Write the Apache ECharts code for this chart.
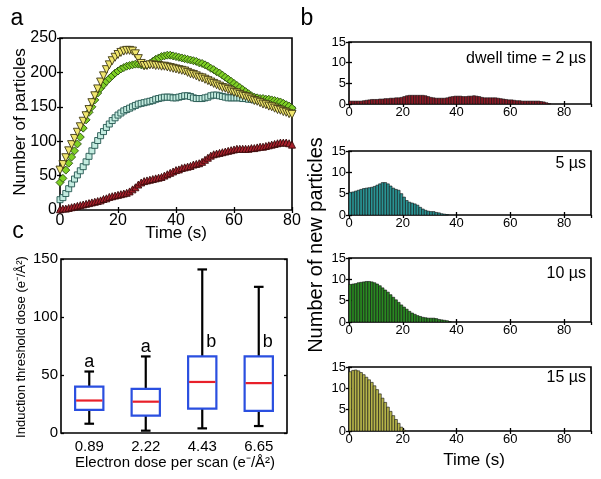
<!DOCTYPE html>
<html lang="en">
<head>
<meta charset="UTF-8">
<title>Particles</title>
<script src="https://cdn.jsdelivr.net/npm/echarts@6/dist/echarts.min.js"></script>
<style>
  body{margin:0;background:#fff}
  #chart{width:601px;height:479px}
</style>
</head>
<body>
<div id="chart"></div>
<script>
// time grid (s), 1 s steps
let timeA = [0,1,2,3,4,5,6,7,8,9,10,11,12,13,14,15,16,17,18,19,20,21,22,23,24,25,26,27,28,29,30,
  31,32,33,34,35,36,37,38,39,40,41,42,43,44,45,46,47,48,49,50,51,52,53,54,55,56,57,58,59,60,
  61,62,63,64,65,66,67,68,69,70,71,72,73,74,75,76,77,78,79,80]

// panel a: number of particles
let yellowA = [58,66,76,86,95,104,113,121,129,137,146,156,166,176,186,195,204,211,217,222,226,229,231,232,232,231,227,220,213,210,210,
  211,211,210,210,209,209,208,207,206,205,204,203,202,200,198,197,195,193,192,190,188,186,184,182,180,178,177,175,173,171,
  170,168,166,165,163,161,159,158,156,154,153,151,150,148,146,145,143,142,140,139]
let greenA = [40,46,58,68,77,86,96,106,119,131,142,150,160,170,177,182,187,191,195,199,202,205,207,209,210,211,212,212,211,210,211,
  213,216,219,221,223,224,225,225,224,223,222,221,220,219,218,217,216,214,213,211,209,206,204,201,199,196,193,190,187,184,
  181,178,175,172,169,166,164,163,162,162,161,161,160,159,158,157,155,153,151,148]
let tealA = [15,18,24,31,38,45,51,57,63,70,78,86,94,101,108,114,120,125,130,134,138,141,144,146,148,150,152,154,155,156,157,
  158,159,161,162,163,164,164,164,163,163,164,165,166,166,165,163,162,162,162,163,164,166,167,167,166,165,164,163,163,163,
  163,163,162,162,161,161,160,160,160,159,159,158,158,157,156,155,153,151,148,146]
let redA = [1,2,2,3,4,5,6,7,8,9,10,11,12,13,14,16,17,19,20,21,22,23,24,25,27,30,33,37,40,42,43,
  44,45,46,47,48,50,52,54,56,58,59,61,62,63,64,66,67,68,70,73,76,79,81,82,83,84,85,86,87,88,
  89,89,89,89,89,90,90,91,92,92,93,94,95,96,97,98,98,98,97,95]

// panel b: new particles per 1 s bin
let binW = 1
let hist2 = [0.7,0.7,0.7,0.7,0.7,0.8,0.9,1.0,1.1,1.1,1.1,1.2,1.2,1.3,1.3,1.4,1.4,1.5,1.5,1.6,1.8,2.0,2.1,2.1,2.1,2.1,2.1,2.1,2.0,1.8,
  1.6,1.5,1.4,1.4,1.4,1.4,1.5,1.7,1.8,1.9,1.9,1.9,1.8,1.8,1.9,1.9,2.0,1.9,1.8,1.6,1.5,1.5,1.5,1.5,1.5,1.4,1.3,1.2,1.1,1.0,
  1.0,0.9,0.8,0.8,0.7,0.7,0.7,0.7,0.7,0.7,0.7,0.6,0.5,0.3,0.1]
let hist5 = [5.3,5.4,5.6,5.8,6.0,6.2,6.3,6.4,6.5,6.7,7.0,7.3,7.6,7.6,7.3,6.8,6.3,6.0,5.8,5.0,4.2,3.4,3.0,2.8,2.6,2.3,1.8,1.4,1.1,0.9,
  0.8,0.8,0.6,0.5,0.3,0.2,0.1]
let hist10 = [8.8,8.9,9.0,9.2,9.3,9.4,9.5,9.5,9.4,9.2,8.9,8.5,8.0,7.5,7.0,6.4,5.8,5.2,4.6,4.0,3.5,3.0,2.5,2.1,1.8,1.5,1.3,1.1,1.0,0.9,
  0.9,0.9,0.8,0.6,0.5,0.4,0.3,0.1]
let hist15 = [13.9,14.2,14.3,14.1,13.7,13.2,12.6,12.0,11.4,10.6,9.7,8.7,7.7,6.7,5.6,4.6,3.6,2.7,1.8,0.9,0.2]
let histLabels = ['dwell time = 2 µs', '5 µs', '10 µs', '15 µs']

// panel c: induction threshold dose box plot
let doseCats = ['0.89', '2.22', '4.43', '6.65']
let boxLow = [8, 2, 4, 6]
let boxQ1 = [20, 15, 21, 19]
let boxMed = [28, 27, 44, 43]
let boxQ3 = [40, 38, 66, 66]
let boxHigh = [53, 66, 141, 126]
let groupLetter = ['a', 'a', 'b', 'b']
let letterAt = [61, 74, 78, 78]

let ff = 'Arial, "Liberation Sans", Helvetica, sans-serif'
let chart = echarts.init(document.getElementById('chart'))

let grids = [
  {left: 60, top: 38, width: 232, height: 172},   // a
  {left: 349, top: 42, width: 242, height: 62},   // b 2us
  {left: 349, top: 151, width: 242, height: 64},  // b 5us
  {left: 349, top: 258, width: 242, height: 64},  // b 10us
  {left: 349, top: 367, width: 242, height: 64},  // b 15us
  {left: 61, top: 259, width: 226, height: 174}   // c
]
grids.forEach(g => { g.show = true; g.borderColor = '#000'; g.borderWidth = 1.6; g.backgroundColor = 'transparent' })

let tick = {show: true, inside: true, length: 3, lineStyle: {color: '#000', width: 1.3}}
let xAxes = [], yAxes = []
function addAxes(gi, xOpt, yOpt, fs) {
  let lab = {color: '#000', fontSize: fs, fontFamily: ff}
  xAxes.push(Object.assign({gridIndex: gi, position: 'bottom', axisLine: {show: false}, axisTick: tick,
    splitLine: {show: false}, axisLabel: Object.assign({margin: 3}, lab)}, xOpt))
  xAxes.push(Object.assign({gridIndex: gi, position: 'top', axisLine: {show: false}, axisTick: tick,
    splitLine: {show: false}, axisLabel: {show: false}}, xOpt))
  yAxes.push(Object.assign({gridIndex: gi, position: 'left', axisLine: {show: false}, axisTick: tick,
    splitLine: {show: false}, axisLabel: Object.assign({margin: 3}, lab)}, yOpt))
  yAxes.push(Object.assign({gridIndex: gi, position: 'right', axisLine: {show: false}, axisTick: tick,
    splitLine: {show: false}, axisLabel: {show: false}}, yOpt))
}
addAxes(0, {type: 'value', min: 0, max: 80, interval: 20}, {type: 'value', min: 0, max: 250, interval: 50}, 16)
for (let k = 1; k <= 4; k++) {
  addAxes(k, {type: 'value', min: 0, max: 90, interval: 20, axisLabel: {showMaxLabel: false}},
    {type: 'value', min: 0, max: 15, interval: 5}, 13)
  xAxes[xAxes.length - 2].axisLabel = {showMaxLabel: false, margin: 2, color: '#000', fontSize: 13, fontFamily: ff}
  xAxes[xAxes.length - 1].axisLabel = {show: false}
}
addAxes(5, {type: 'category', data: doseCats}, {type: 'value', min: 0, max: 150, interval: 50}, 15)
xAxes[10].axisTick = {show: false}
xAxes[10].axisLabel.margin = 6
xAxes[11].axisTick = {show: false}

function scatterSeries(vals, symbol, color, border, size, rot) {
  return {
    type: 'scatter', xAxisIndex: 0, yAxisIndex: 0, symbol: symbol, symbolSize: size, symbolRotate: rot || 0,
    data: vals.map((v, i) => [timeA[i], v]),
    itemStyle: {color: color, borderColor: border, borderWidth: 0.9, opacity: 1},
    silent: true
  }
}

function histSeries(k, vals, color) {
  return {
    type: 'custom', xAxisIndex: 2 * k, yAxisIndex: 2 * k,
    data: vals.map((v, i) => [timeA[i], v]),
    renderItem: function (params, api) {
      let p0 = api.coord([api.value(0), 0])
      let p1 = api.coord([api.value(0) + binW, api.value(1)])
      return {type: 'rect', shape: {x: p0[0], y: p1[1], width: p1[0] - p0[0], height: p0[1] - p1[1]},
        style: {fill: color, stroke: '#111', lineWidth: 0.6}}
    },
    silent: true
  }
}

let boxSeries = {
  type: 'custom', xAxisIndex: 10, yAxisIndex: 10,
  data: doseCats.map((c, i) => [i, boxLow[i], boxQ1[i], boxMed[i], boxQ3[i], boxHigh[i], letterAt[i]]),
  renderItem: function (params, api) {
    let i = api.value(0)
    let band = api.size([1, 0])[0]
    let bw = band * 0.5, cw = band * 0.17
    let lo = api.coord([i, api.value(1)]), q1 = api.coord([i, api.value(2)])
    let md = api.coord([i, api.value(3)]), q3 = api.coord([i, api.value(4)])
    let hi = api.coord([i, api.value(5)]), la = api.coord([i, api.value(6)])
    let cx = lo[0]
    let blk = {stroke: '#000', lineWidth: 2.2}
    let letter = groupLetter[params.dataIndex]
    return {type: 'group', children: [
      {type: 'line', shape: {x1: cx, y1: lo[1], x2: cx, y2: q1[1]}, style: blk},
      {type: 'line', shape: {x1: cx, y1: q3[1], x2: cx, y2: hi[1]}, style: blk},
      {type: 'line', shape: {x1: cx - cw / 2, y1: lo[1], x2: cx + cw / 2, y2: lo[1]}, style: blk},
      {type: 'line', shape: {x1: cx - cw / 2, y1: hi[1], x2: cx + cw / 2, y2: hi[1]}, style: blk},
      {type: 'rect', shape: {x: cx - bw / 2, y: q3[1], width: bw, height: q1[1] - q3[1]},
        style: {fill: '#fff', stroke: '#2a4fe0', lineWidth: 2.2}},
      {type: 'line', shape: {x1: cx - bw / 2 + 1, y1: md[1], x2: cx + bw / 2 - 1, y2: md[1]},
        style: {stroke: '#e8202a', lineWidth: 2.2}},
      {type: 'text', x: letter === 'b' ? cx + 9 : cx, y: la[1],
        style: {text: letter, fontSize: 18, fontFamily: ff, fill: '#000', align: 'center', verticalAlign: 'middle'}}
    ]}
  },
  silent: true
}

function txt(x, y, s, size, align, rot) {
  return {type: 'text', x: x, y: y, rotation: rot || 0,
    style: {text: s, fontSize: size, fontFamily: ff, fill: '#000', align: align || 'center', verticalAlign: 'middle'}}
}

let option = {
  animation: false,
  backgroundColor: '#fff',
  grid: grids,
  xAxis: xAxes,
  yAxis: yAxes,
  series: [
    scatterSeries(redA, 'triangle', '#a8202c', '#3a0a0a', 7),
    scatterSeries(tealA, 'rect', '#c4ece0', '#23564f', 6),
    scatterSeries(greenA, 'diamond', '#7fd024', '#2a4d10', 8),
    scatterSeries(yellowA, 'triangle', '#f0e66e', '#3e3812', 8, 180),
    histSeries(1, hist2, '#8c1a26'),
    histSeries(2, hist5, '#2a9494'),
    histSeries(3, hist10, '#2a8a22'),
    histSeries(4, hist15, '#b6b44a'),
    boxSeries
  ],
  graphic: [
    txt(17, 19, 'a', 23),
    txt(307, 19, 'b', 23),
    txt(18, 232, 'c', 23),
    txt(20, 122, 'Number of particles', 17, 'center', Math.PI / 2),
    txt(176, 233, 'Time (s)', 17),
    txt(316, 245, 'Number of new particles', 20, 'center', Math.PI / 2),
    txt(474, 460, 'Time (s)', 17),
    txt(586, 59, histLabels[0], 16, 'right'),
    txt(586, 164, histLabels[1], 16, 'right'),
    txt(586, 274, histLabels[2], 16, 'right'),
    txt(586, 378, histLabels[3], 16, 'right'),
    txt(21, 347, 'Induction threshold dose (e⁻/Å²)', 13, 'center', Math.PI / 2),
    txt(175, 463, 'Electron dose per scan (e⁻/Å²)', 15)
  ]
}
chart.setOption(option)
</script>
</body>
</html>
